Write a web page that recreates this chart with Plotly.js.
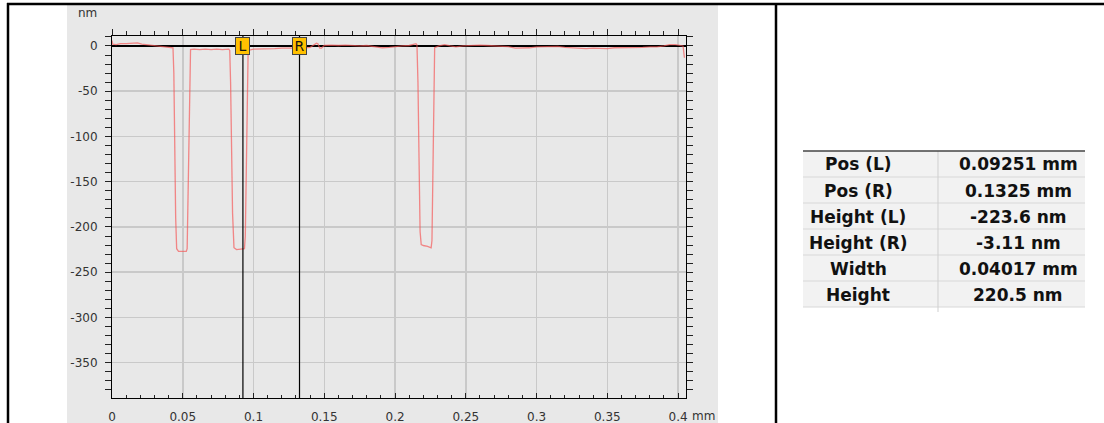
<!DOCTYPE html>
<html>
<head>
<meta charset="utf-8">
<script src="https://cdn.plot.ly/plotly-3.0.1.min.js"></script>
<style>
  html, body { margin: 0; padding: 0; background: #ffffff; }
  #chart { width: 1104px; height: 423px; }
</style>
</head>
<body>
<div id="chart"></div>
<script>
// ---- profile data (x in mm, height in nm) ----
const profileX = [0, 0.0005, 0.003, 0.006, 0.010, 0.014, 0.018, 0.021, 0.024, 0.028, 0.032, 0.036, 0.039, 0.041, 0.0431,
  0.0437, 0.0443, 0.0450, 0.0457, 0.047, 0.050, 0.0525, 0.0531, 0.0537, 0.0542, 0.0548, 0.0555,
  0.058, 0.062, 0.066, 0.070, 0.074, 0.078, 0.0825, 0.0832,
  0.0838, 0.0844, 0.0852, 0.0862, 0.088, 0.091, 0.0936, 0.0942, 0.0948, 0.0954, 0.0962,
  0.100, 0.105, 0.110, 0.115, 0.120, 0.125, 0.130, 0.135, 0.140, 0.1445, 0.1455, 0.1468, 0.148, 0.150,
  0.155, 0.160, 0.165, 0.170, 0.175, 0.180, 0.185, 0.191, 0.196, 0.200, 0.205, 0.210, 0.2135, 0.2148, 0.2155,
  0.2162, 0.2170, 0.2177, 0.2185, 0.220, 0.223, 0.2255, 0.2261, 0.2266, 0.2272, 0.2280,
  0.231, 0.235, 0.239, 0.243, 0.248, 0.255, 0.260, 0.265, 0.270, 0.275, 0.280, 0.285, 0.290, 0.295, 0.300,
  0.305, 0.310, 0.315, 0.320, 0.325, 0.330, 0.335, 0.340, 0.345, 0.350, 0.355, 0.360, 0.365, 0.370, 0.375,
  0.380, 0.385, 0.390, 0.394, 0.398, 0.401, 0.4035, 0.4045];
const profileY = [6, 2, 1.5, 2.5, 2.5, 3, 3.5, 2, 1.5, 1, 0.5, 0, -0.5, -1.5, -2,
  -30, -110, -190, -224, -227, -227, -227, -224, -170, -90, -25, -4,
  -3.5, -4, -3.5, -4, -3.5, -4, -3.5, -5,
  -40, -110, -185, -223, -225, -224.5, -224, -210, -140, -60, -5,
  -3.5, -3.5, -3, -3, -2.5, -2.5, -2, -2.5, -1.5, 3, 2.5, -2.5, -2.5, 0.5,
  1, 0.5, 1, 0.5, 0, 0.5, -1, -2, -1.5, -0.5, 0, 0.5, 1.5, 2.5, 1,
  -40, -130, -205, -219.5, -220.5, -221.5, -223, -215, -150, -60, -2,
  0, 1.5, 0, -1, 0, 0.5, 1, 0.5, 0, -0.5, -0.7, -2.5, -2.5, -2, -1,
  -1, -1, -0.5, -1.5, -2, -2.5, -3, -2.5, -3, -3, -2, -2, -2, -1.5, -1.5,
  -1, -1, 0, 1.5, 1.5, 1, 0, -13];

// ---- axis ticks ----
const xTickVals = [0, 0.05, 0.1, 0.15, 0.2, 0.25, 0.3, 0.35, 0.4];
const xTickText = ['0', '0.05', '0.1', '0.15', '0.2', '0.25', '0.3', '0.35', '0.4'];
const yTickVals = [0, -50, -100, -150, -200, -250, -300, -350];
const yTickText = ['0', '-50', '-100', '-150', '-200', '-250', '-300', '-350'];
const xUnit = 'mm';
const yUnit = 'nm';

// ---- cursor / measurement table ----
const cursorNames = ['L', 'R'];
const measureLabels = ['Pos (L)', 'Pos (R)', 'Height (L)', 'Height (R)', 'Width', 'Height'];
const measureValues = ['0.09251', '0.1325', '-223.6', '-3.11', '0.04017', '220.5'];
const measureUnits = ['mm', 'mm', 'nm', 'nm', 'mm', 'nm'];
const cursorPos = [parseFloat(measureValues[0]), parseFloat(measureValues[1])];

// ---- geometry helpers (pixel -> paper) ----
const W = 1104, H = 423;
const px = v => v / W;
const py = v => 1 - v / H;

const FONT = 'DejaVu Sans, Liberation Sans, Arial, sans-serif';
const gridCol = '#c9c9c9';

const traces = [
  {
    type: 'scatter', mode: 'lines',
    x: profileX, y: profileY,
    xaxis: 'x', yaxis: 'y',
    line: { color: 'rgba(245,85,85,0.68)', width: 1.3 },
    hoverinfo: 'skip', showlegend: false
  },
  {
    type: 'scatter', mode: 'markers',
    x: [profileX[0]], y: [profileY[0]],
    xaxis: 'x2', yaxis: 'y',
    marker: { opacity: 0 }, hoverinfo: 'skip', showlegend: false
  }
];

const shapes = [
  // gray chart panel
  { type: 'rect', xref: 'paper', yref: 'paper', x0: px(67), x1: px(718), y0: 0, y1: py(5),
    fillcolor: '#e8e8e8', line: { width: 0 }, layer: 'below' },
  // outer frame
  { type: 'line', xref: 'paper', yref: 'paper', x0: px(7), x1: 1, y0: py(4), y1: py(4),
    line: { color: '#000', width: 2.5 } },
  { type: 'line', xref: 'paper', yref: 'paper', x0: px(8), x1: px(8), y0: 0, y1: py(3),
    line: { color: '#000', width: 2.5 } },
  { type: 'line', xref: 'paper', yref: 'paper', x0: px(776), x1: px(776), y0: 0, y1: py(3),
    line: { color: '#000', width: 2.5 } }
];
cursorPos.forEach(p => {
  shapes.push({ type: 'line', xref: 'x', yref: 'paper', x0: p, x1: p, y0: py(398), y1: py(36),
    line: { color: '#000', width: 1.2 }, layer: 'above' });
});

const annotations = [
  { xref: 'paper', yref: 'paper', x: px(88), y: py(13), text: yUnit, showarrow: false,
    xanchor: 'center', yanchor: 'middle', font: { family: FONT, size: 12, color: '#333' } },
  { xref: 'paper', yref: 'paper', x: px(703), y: py(416), text: xUnit, showarrow: false,
    xanchor: 'center', yanchor: 'middle', font: { family: FONT, size: 12, color: '#333' } }
];
cursorPos.forEach((p, i) => {
  annotations.push({ xref: 'x', yref: 'paper', x: p, y: py(37), yanchor: 'top', xanchor: 'center',
    text: cursorNames[i], showarrow: false, bgcolor: '#ffc000', bordercolor: '#444', borderwidth: 1,
    borderpad: 0, width: 13, height: 16, font: { family: FONT, size: 14, color: '#111' } });
});

// ---- measurement table (cells as shapes + text annotations) ----
const tblLeft = 803, tblMid = 938, tblRight = 1085, tblTop = 151, rowH = 26;
const nRows = measureLabels.length;
shapes.push({ type: 'rect', xref: 'paper', yref: 'paper', x0: px(tblLeft), x1: px(tblRight),
  y0: py(tblTop + nRows * rowH), y1: py(tblTop), fillcolor: '#f2f2f2', line: { width: 0 }, layer: 'below' });
for (let r = 1; r <= nRows; r++) {
  shapes.push({ type: 'line', xref: 'paper', yref: 'paper', x0: px(tblLeft), x1: px(tblRight),
    y0: py(tblTop + r * rowH), y1: py(tblTop + r * rowH), line: { color: '#d8d8d8', width: 1 } });
}
shapes.push({ type: 'line', xref: 'paper', yref: 'paper', x0: px(tblMid), x1: px(tblMid),
  y0: py(tblTop + nRows * rowH + 5), y1: py(tblTop), line: { color: '#cfcfcf', width: 1 } });
shapes.push({ type: 'line', xref: 'paper', yref: 'paper', x0: px(tblLeft), x1: px(tblRight),
  y0: py(tblTop), y1: py(tblTop), line: { color: '#444', width: 1.5 } });
measureLabels.forEach((lab, r) => {
  const yc = py(tblTop + r * rowH + rowH / 2 + 0.5);
  annotations.push({ xref: 'paper', yref: 'paper', x: px(858), y: yc, xanchor: 'center', yanchor: 'middle',
    text: '<b>' + lab + '</b>', showarrow: false, font: { family: FONT, size: 17, color: '#111' } });
  annotations.push({ xref: 'paper', yref: 'paper', x: px(1018), y: yc, xanchor: 'center', yanchor: 'middle',
    text: '<b>' + measureValues[r] + ' ' + measureUnits[r] + '</b>', showarrow: false,
    font: { family: FONT, size: 17, color: '#111' } });
});

const layout = {
  width: W, height: H,
  margin: { l: 0, r: 0, t: 0, b: 0, pad: 0 },
  paper_bgcolor: '#ffffff', plot_bgcolor: 'rgba(0,0,0,0)',
  showlegend: false,
  xaxis: {
    domain: [px(112), px(686)], range: [0, 0.4056], anchor: 'y',
    tickmode: 'array', tickvals: xTickVals, ticktext: xTickText,
    ticks: 'inside', ticklen: 5, tickwidth: 1, tickcolor: '#222',
    minor: { tickmode: 'linear', tick0: 0, dtick: 0.01, ticks: 'inside', ticklen: 3, tickcolor: '#222', showgrid: false },
    showline: true, linecolor: '#000', linewidth: 1,
    showgrid: true, gridcolor: gridCol, gridwidth: 1.5, zeroline: false,
    tickfont: { family: FONT, size: 12, color: '#333' },
    ticklabelstandoff: 8,
    fixedrange: true
  },
  xaxis2: {
    overlaying: 'x', matches: 'x', side: 'top', anchor: 'y',
    tickmode: 'array', tickvals: xTickVals, showticklabels: false,
    ticks: 'outside', ticklen: 6, tickwidth: 1, tickcolor: '#222',
    minor: { tickmode: 'linear', tick0: 0, dtick: 0.01, ticks: 'outside', ticklen: 4, tickcolor: '#222', showgrid: false },
    showline: true, linecolor: '#000', linewidth: 1,
    showgrid: false, zeroline: false, fixedrange: true
  },
  yaxis: {
    domain: [py(398), py(36)], range: [-389, 11], anchor: 'x',
    tickmode: 'array', tickvals: yTickVals, ticktext: yTickText,
    ticks: 'outside', ticklen: 6, tickwidth: 1, tickcolor: '#222',
    minor: { tickmode: 'linear', tick0: 0, dtick: 10, ticks: 'outside', ticklen: 4, tickcolor: '#222', showgrid: false },
    showline: true, linecolor: '#000', linewidth: 1, mirror: 'allticks',
    showgrid: true, gridcolor: gridCol, gridwidth: 1.5,
    zeroline: true, zerolinecolor: '#000', zerolinewidth: 1.2,
    tickfont: { family: FONT, size: 12, color: '#333' },
    ticklabelstandoff: 5,
    fixedrange: true
  },
  shapes: shapes,
  annotations: annotations
};

Plotly.newPlot('chart', traces, layout, { staticPlot: true, displayModeBar: false });
</script>
</body>
</html>
